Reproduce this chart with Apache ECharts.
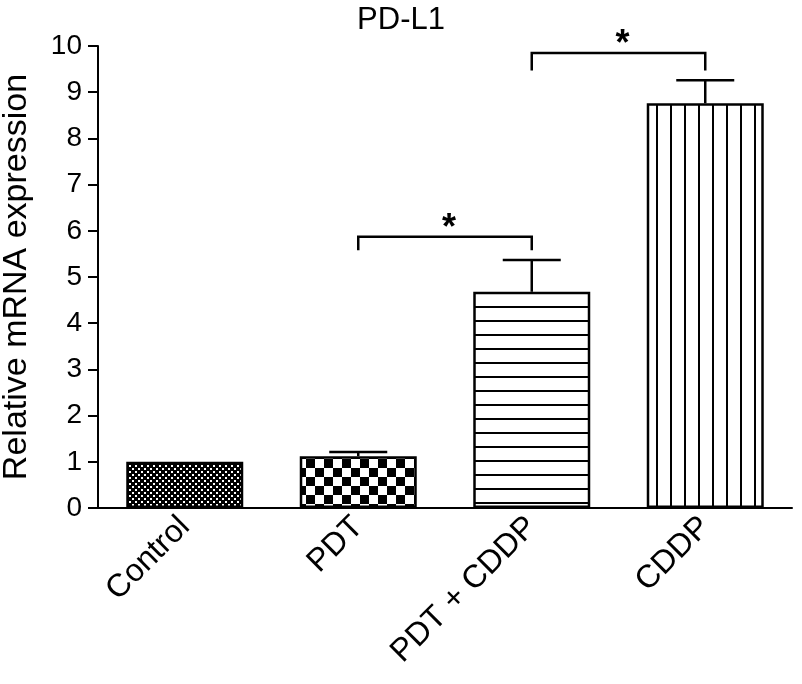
<!DOCTYPE html>
<html>
<head>
<meta charset="utf-8">
<script src="https://cdn.jsdelivr.net/npm/echarts@6/dist/echarts.min.js"></script>
<style>html,body{margin:0;padding:0;background:#fff;}#chart{width:802px;height:684px;}</style>
</head>
<body>
<div id="chart"></div>
<script>
// ---- data ----
var categories = ['Control', 'PDT', 'PDT + CDDP', 'CDDP'];
var means = [1.0, 1.12, 4.68, 8.76];
var errors = [0, 0.09, 0.69, 0.50];
var yTicks = [0, 10, 1]; // min, max, interval
// significance brackets: [fromIndex, toIndex, barY, legBottomY]
var bracketA = [1, 2, 5.87, 5.58];
var bracketB = [2, 3, 9.85, 9.47];
var bracketLabel = '*';

var FONT = '"Liberation Sans", Arial, Helvetica, sans-serif';

function makePattern(kind) {
  var c = document.createElement('canvas');
  var ctx;
  if (kind === 'fine') {
    c.width = 6; c.height = 6; ctx = c.getContext('2d');
    ctx.fillStyle = '#000'; ctx.fillRect(0, 0, 6, 6);
    ctx.fillStyle = '#fff'; ctx.fillRect(0, 0, 2, 2); ctx.fillRect(3, 3, 2, 2);
  } else if (kind === 'checker') {
    c.width = 18; c.height = 18; ctx = c.getContext('2d');
    ctx.fillStyle = '#000'; ctx.fillRect(0, 0, 18, 18);
    ctx.fillStyle = '#fff'; ctx.fillRect(0, 0, 9, 9); ctx.fillRect(9, 9, 9, 9);
  } else if (kind === 'hlines') {
    c.width = 4; c.height = 14; ctx = c.getContext('2d');
    ctx.fillStyle = '#fff'; ctx.fillRect(0, 0, 4, 14);
    ctx.fillStyle = '#000'; ctx.fillRect(0, 12, 4, 2);
  } else {
    c.width = 14; c.height = 4; ctx = c.getContext('2d');
    ctx.fillStyle = '#fff'; ctx.fillRect(0, 0, 14, 4);
    ctx.fillStyle = '#000'; ctx.fillRect(12, 0, 2, 4);
  }
  return { image: c, repeat: 'repeat' };
}
var patterns = [makePattern('fine'), makePattern('checker'), makePattern('hlines'), makePattern('vlines')];

var barData = means.map(function (v, i) {
  return { value: v, itemStyle: { color: patterns[i] } };
});
var errData = means.map(function (v, i) { return [i, v, errors[i]]; });
var bracketData = [bracketA, bracketB];

var chart = echarts.init(document.getElementById('chart'), null, { renderer: 'canvas' });
chart.setOption({
  animation: false,
  backgroundColor: '#fff',
  title: {
    text: 'PD-L1', left: 'center', top: 0,
    textStyle: { fontFamily: FONT, fontSize: 31, fontWeight: 'normal', color: '#000' }
  },
  grid: { left: 98, right: 10, top: 46, bottom: 176, containLabel: false, outerBoundsMode: 'none' },
  xAxis: {
    type: 'category', data: categories, boundaryGap: true,
    axisLine: { lineStyle: { color: '#000', width: 2 } },
    axisTick: { alignWithLabel: true, length: 12, lineStyle: { color: '#000', width: 2 } },
    axisLabel: { rotate: 45, margin: 14, fontFamily: FONT, fontSize: 32, color: '#000', interval: 0 }
  },
  yAxis: {
    type: 'value', min: yTicks[0], max: yTicks[1], interval: yTicks[2],
    name: 'Relative mRNA expression', nameLocation: 'middle', nameGap: 64,
    nameTextStyle: { fontFamily: FONT, fontSize: 34, color: '#000' },
    axisLine: { show: true, lineStyle: { color: '#000', width: 2 } },
    axisTick: { show: true, length: 10, lineStyle: { color: '#000', width: 2 } },
    axisLabel: { margin: 16, fontFamily: FONT, fontSize: 28, color: '#000' },
    splitLine: { show: false }
  },
  series: [
    {
      type: 'bar', data: barData, barWidth: 117, z: 2,
      itemStyle: { borderColor: '#000', borderWidth: 2.5 }
    },
    {
      type: 'custom', data: errData, z: 3, clip: false,
      renderItem: function (params, api) {
        var i = api.value(0), m = api.value(1), e = api.value(2);
        if (!e) return null;
        var p0 = api.coord([i, m]);
        var p1 = api.coord([i, m + e]);
        var st = { stroke: '#000', lineWidth: 2.5 };
        return {
          type: 'group', children: [
            { type: 'line', shape: { x1: p0[0], y1: p0[1], x2: p1[0], y2: p1[1] }, style: st },
            { type: 'line', shape: { x1: p1[0] - 29, y1: p1[1], x2: p1[0] + 29, y2: p1[1] }, style: st }
          ]
        };
      }
    },
    {
      type: 'custom', data: bracketData, z: 3, clip: false,
      renderItem: function (params, api) {
        var a = api.value(0), b = api.value(1), y = api.value(2), yl = api.value(3);
        var pa = api.coord([a, y]), pb = api.coord([b, y]);
        var la = api.coord([a, yl]), lb = api.coord([b, yl]);
        return {
          type: 'group', children: [
            { type: 'polyline', shape: { points: [la, pa, pb, lb] },
              style: { stroke: '#000', lineWidth: 2.5, fill: null } },
            { type: 'text', x: (pa[0] + pb[0]) / 2 + 4, y: pa[1] - 26,
              style: { text: bracketLabel, fontFamily: FONT, fontSize: 36, fontWeight: 'bold',
                       fill: '#000', align: 'center', verticalAlign: 'top' } }
          ]
        };
      }
    }
  ]
});
</script>
</body>
</html>
